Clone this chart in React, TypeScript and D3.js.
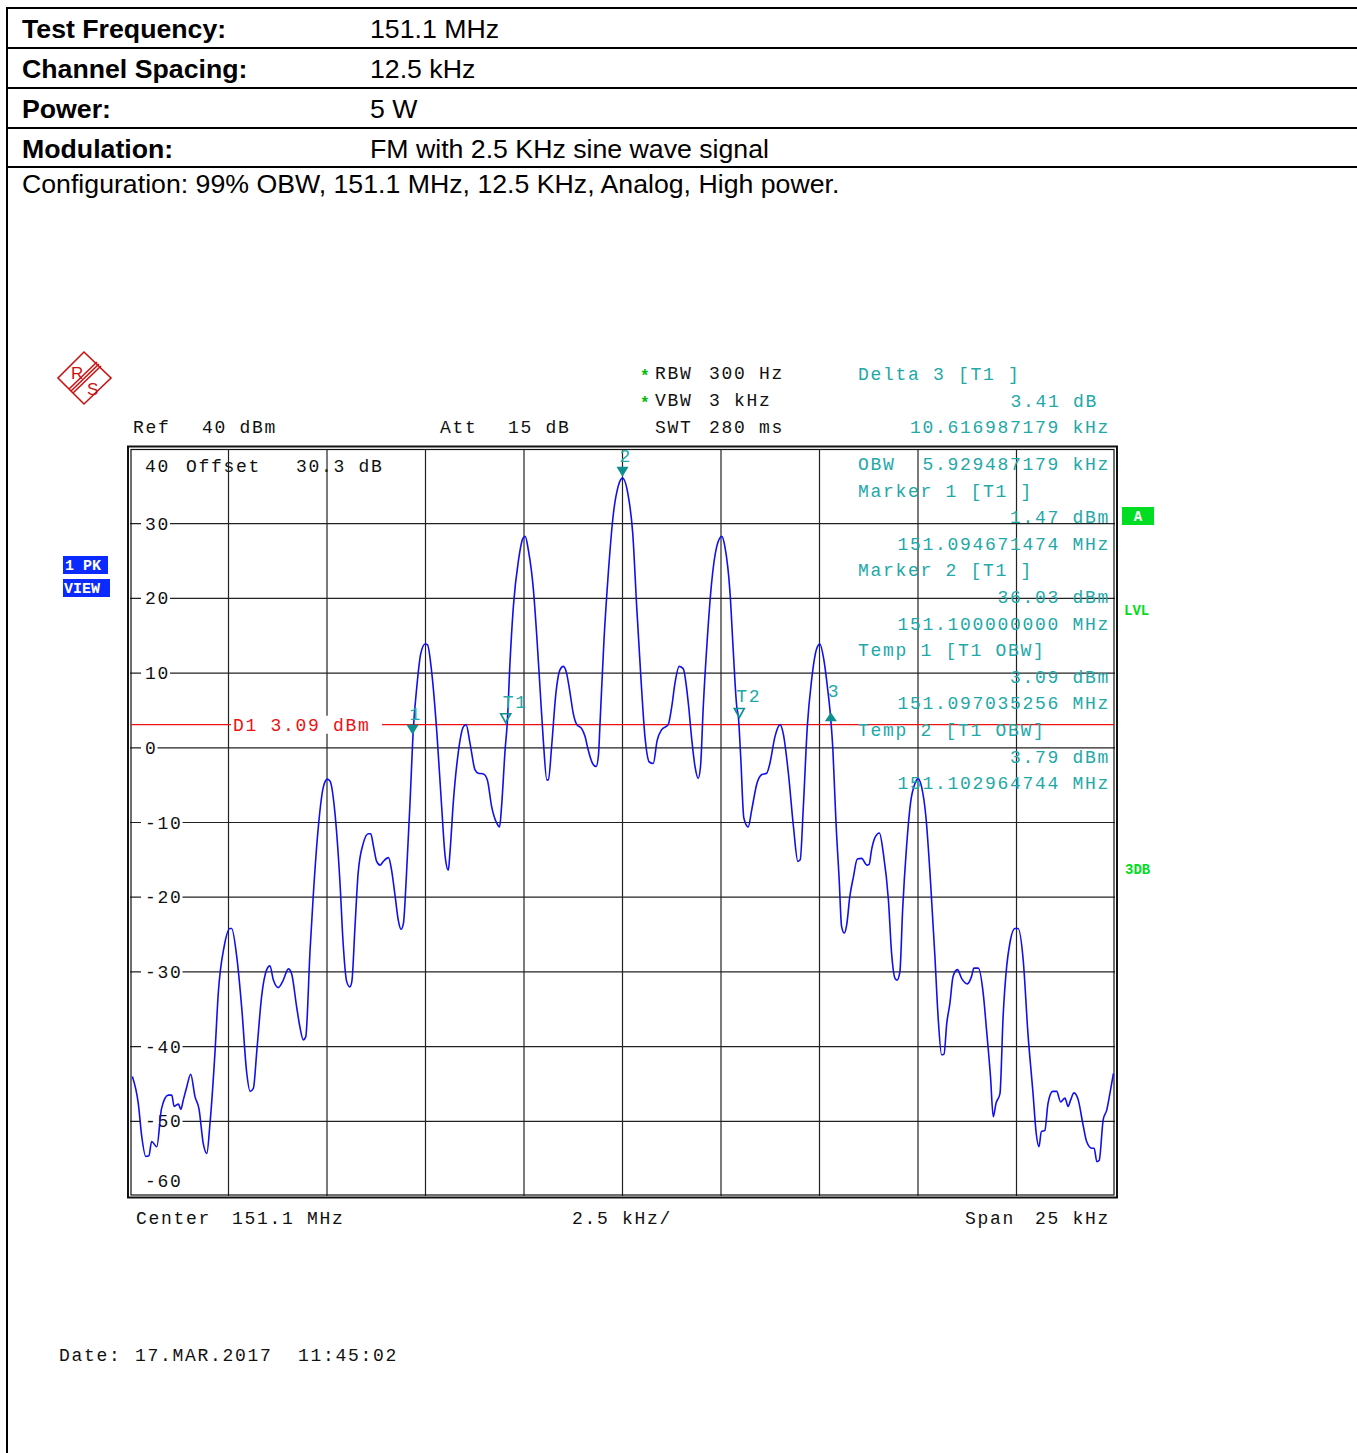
import React from "react";
import * as d3 from "d3";

// trace, kHz offset from 151.1 MHz centre / level in dBm
const traceKHz = [
  -12.44, -12.29, -12.2, -12.1, -12.02, -11.95, -11.82, -11.7, -11.53, -11.44, -11.38, -11.27, -11.21, -11.15,
  -11.06, -10.96, -10.85, -10.75, -10.64, -10.55, -10.47, -10.34, -10.26, -10.11, -9.96, -9.92, -9.79, -9.66,
  -9.54, -9.45, -9.37, -9.28, -9.16, -9.03, -8.95, -8.86, -8.74, -8.61, -8.48, -8.4, -8.27, -8.19, -8.1, -8.04,
  -7.93, -7.85, -7.72, -7.59, -7.49, -7.42, -7.29, -7.17, -7.09, -7.0, -6.92, -6.87, -6.79, -6.71, -6.58, -6.45,
  -6.39, -6.32, -6.24, -6.15, -6.07, -5.94, -5.86, -5.77, -5.69, -5.62, -5.56, -5.49, -5.39, -5.31, -5.22, -5.12,
  -5.01, -4.95, -4.84, -4.71, -4.59, -4.5, -4.42, -4.38, -4.29, -4.17, -4.04, -3.97, -3.87, -3.74, -3.66, -3.53,
  -3.43, -3.32, -3.19, -3.12, -3.07, -2.98, -2.92, -2.86, -2.77, -2.64, -2.53, -2.47, -2.39, -2.26, -2.18, -2.09,
  -2.01, -1.92, -1.88, -1.8, -1.69, -1.59, -1.5, -1.42, -1.33, -1.25, -1.16, -1.04, -0.95, -0.87, -0.76, -0.67,
  -0.61, -0.57, -0.47, -0.36, -0.23, -0.11, 0.0, 0.15, 0.26, 0.36, 0.46, 0.57, 0.68, 0.78, 0.88, 0.99, 1.16, 1.25,
  1.33, 1.44, 1.54, 1.67, 1.76, 1.84, 1.92, 1.98, 2.05, 2.15, 2.26, 2.39, 2.52, 2.6, 2.73, 2.81, 2.9, 2.94, 3.0,
  3.08, 3.19, 3.28, 3.41, 3.53, 3.66, 3.74, 3.87, 4.0, 4.08, 4.21, 4.34, 4.45, 4.51, 4.59, 4.69, 4.8, 4.93, 5.01,
  5.11, 5.2, 5.28, 5.34, 5.39, 5.42, 5.5, 5.56, 5.63, 5.69, 5.77, 5.86, 5.96, 6.07, 6.2, 6.26, 6.32, 6.41, 6.52,
  6.62, 6.75, 6.83, 6.92, 6.97, 7.04, 7.11, 7.21, 7.31, 7.42, 7.5, 7.59, 7.7, 7.82, 7.93, 8.01, 8.1, 8.16, 8.23,
  8.31, 8.39, 8.5, 8.61, 8.75, 8.86, 8.92, 9.03, 9.16, 9.24, 9.34, 9.41, 9.48, 9.58, 9.66, 9.75, 9.83, 9.96, 10.04,
  10.17, 10.29, 10.42, 10.5, 10.57, 10.63, 10.72, 10.8, 10.92, 11.02, 11.12, 11.23, 11.31, 11.37, 11.46, 11.57,
  11.69, 11.78, 11.91, 11.97, 12.04, 12.1, 12.2, 12.29, 12.37, 12.46,
];
const traceDbm = [
  -44.0, -47.6, -52.1, -54.7, -54.6, -52.7, -53.4, -48.3, -46.5, -46.5, -48.0, -47.7, -48.4, -47.2,
  -45.4, -43.7, -46.7, -48.3, -53.0, -54.3, -50.3, -40.5, -32.9, -26.6, -24.2, -24.2, -28.0, -35.1,
  -43.4, -46.0, -45.6, -40.5, -33.3, -29.7, -29.2, -31.1, -32.1, -31.1, -29.6, -30.2, -34.7, -37.3, -39.1, -38.7,
  -27.1, -19.9, -10.6, -5.2, -4.2, -4.5, -9.2, -18.1, -26.2, -31.3, -32.0, -31.3, -24.0, -16.8, -12.8, -11.5,
  -11.5, -13.2, -15.2, -15.7, -15.2, -14.7, -16.4, -19.9, -23.1, -24.3, -23.5, -17.7, -7.0, 2.4, 8.2, 12.6,
  13.9, 13.8, 10.0, 1.9, -7.9, -14.6, -16.4, -14.1, -7.0, -0.7, 2.8, 3.1, 0.6, -3.0, -3.4, -3.5,
  -4.3, -7.9, -10.1, -10.6, -7.9, -0.3, 3.7, 10.9, 18.9, 25.1, 28.0, 28.3, 26.5, 21.1, 15.3, 7.7,
  1.0, -4.3, -4.3, 0.1, 7.3, 10.4, 10.9, 10.0, 7.3, 4.6, 3.1, 2.6, 1.5, -0.3, -2.1, -2.5,
  -1.0, 3.3, 14.4, 23.4, 31.4, 35.0, 36.1, 33.6, 28.7, 18.9, 10.0, 1.5, -1.9, -2.1, 1.0, 2.4, 3.1, 5.5,
  8.6, 10.9, 10.6, 6.0, 1.0, -2.5, -4.1, -2.5, 5.5, 14.4, 22.0, 26.9, 28.3, 26.9, 20.7, 13.1, 5.5, 4.2, -1.2,
  -9.4, -10.6, -8.3, -4.8, -3.6, -3.4, -2.1, 1.5, 3.1, 1.9, -3.4, -10.6, -15.2, -15.0, -7.9, 2.8, 9.1, 13.3, 13.9,
  11.8, 8.2, 4.2, -0.3, -6.5, -10.1, -17.7, -23.9, -24.8, -23.7, -19.9, -17.3, -14.9, -14.8, -15.7, -15.6, -13.7, -12.0, -11.4,
  -14.1, -20.4, -27.5, -30.9, -31.1, -30.0, -21.7, -13.2, -7.4, -4.8, -4.1, -5.2, -9.2, -18.1, -28.0, -36.0, -41.1, -41.0, -36.9,
  -34.2, -30.6, -29.7, -30.9, -31.6, -30.6, -29.5, -29.5, -33.1, -37.8, -44.0, -49.4, -47.6, -46.3, -36.0, -29.3, -26.2, -24.2, -24.2,
  -28.4, -38.2, -46.3, -51.6, -53.4, -51.4, -51.2, -47.6, -46.0, -46.0, -47.4, -46.9, -48.0, -47.2, -46.2, -47.2,
  -50.5, -52.7, -53.6, -53.6, -55.4, -55.2, -49.8, -48.5, -46.3, -43.6,
];

const yTickValues = [30, 20, 10, 0, -10, -20, -30, -40, -50];
const xGridValues = [-10, -7.5, -5, -2.5, 0, 2.5, 5, 7.5, 10];

const markerKHz = [-5.3286, 0, 5.2884];
const markerDbm = [1.47, 36.03, 4.88];
const markerNames = ["1", "2", "3"];
const tempKHz = [-2.9647, 2.9647];
const tempDbm = [3.09, 3.79];
const tempNames = ["T1", "T2"];
const displayLineDbm = 3.09;

const tableLabels = ["Test Frequency:", "Channel Spacing:", "Power:", "Modulation:"];
const tableValues = ["151.1 MHz", "12.5 kHz", "5 W", "FM with 2.5 KHz sine wave signal"];

const deltaLines = ["3.41 dB", "10.616987179 kHz"];
const readoutLeft = ["OBW", "Marker 1 [T1 ]", "", "", "Marker 2 [T1 ]", "", "", "Temp 1 [T1 OBW]", "", "", "Temp 2 [T1 OBW]", "", ""];
const readoutRight = [
  "5.929487179 kHz", "", "1.47 dBm", "151.094671474 MHz", "", "36.03 dBm", "151.100000000 MHz",
  "", "3.09 dBm", "151.097035256 MHz", "", "3.79 dBm", "151.102964744 MHz",
];

const sans = "'Liberation Sans', Arial, sans-serif";
const mono = "'Liberation Mono', 'Courier New', monospace";
const TEAL = "#22a8a8";
const MARK = "#0e9090";
const GREEN = "#00dd22";
const PITCH = 12.5;

const monoStyle: React.CSSProperties = { fontFamily: mono, fontSize: 18, letterSpacing: 1.7 };

const App: React.FC = () => {
  const W = 1357;
  const H = 1453;
  const left = 130, right = 1115, top = 449, bottom = 1196;

  const x = d3.scaleLinear().domain([-12.5, 12.5]).range([left, right]);
  const y = d3.scaleLinear().domain([-60, 40]).range([bottom, top]);

  const pts: [number, number][] = traceKHz.map((f, i) => [f, traceDbm[i]]);
  const line = d3
    .line<[number, number]>()
    .x((d) => x(d[0]))
    .y((d) => y(d[1]))
    .curve(d3.curveMonotoneX);

  const rowY = (i: number) => 470 + i * 26.6;

  return (
    <svg
      width={W}
      height={H}
      style={{ position: "absolute", left: 0, top: 0, display: "block", background: "#fff" }}
    >
      {/* page frame + header table */}
      <line x1={7} x2={7} y1={7} y2={H} stroke="#000" strokeWidth={2} />
      {[8, 48, 88, 128, 167].map((ly) => (
        <line key={ly} x1={6} x2={W} y1={ly} y2={ly} stroke="#000" strokeWidth={2} />
      ))}
      {tableLabels.map((t, i) => (
        <text key={t} x={22} y={38 + i * 40} fontFamily={sans} fontSize={26.7} fontWeight="bold">
          {t}
        </text>
      ))}
      {tableValues.map((t, i) => (
        <text key={t} x={370} y={38 + i * 40} fontFamily={sans} fontSize={26.7}>
          {t}
        </text>
      ))}
      <text x={22} y={193} fontFamily={sans} fontSize={26.7}>
        Configuration: 99% OBW, 151.1 MHz, 12.5 KHz, Analog, High power.
      </text>

      {/* R&S logo */}
      <g stroke="#cc1111" fill="none" strokeWidth={1.6}>
        <polygon points="84,352 111,378 84,404 58,378" />
        <line x1={99} x2={71} y1={364} y2={391} />
        <line x1={101} x2={73} y1={366} y2={393} />
        <line x1={97} x2={69} y1={362} y2={389} />
      </g>
      <text x={71} y={379} fontFamily={sans} fontSize={17} fill="#cc1111">R</text>
      <text x={87} y={395} fontFamily={sans} fontSize={17} fill="#cc1111">S</text>

      {/* settings header */}
      <g style={monoStyle} fill="#111">
        <text x={133} y={433}>Ref</text>
        <text x={202} y={433}>40 dBm</text>
        <text x={440} y={433}>Att</text>
        <text x={508} y={433}>15 dB</text>
        <text x={655} y={379}>RBW</text>
        <text x={709} y={379}>300 Hz</text>
        <text x={655} y={406}>VBW</text>
        <text x={709} y={406}>3 kHz</text>
        <text x={655} y={433}>SWT</text>
        <text x={709} y={433}>280 ms</text>
        <text x={145} y={472}>40</text>
        <text x={186} y={472}>Offset</text>
        <text x={296} y={472}>30.3 dB</text>
        <text x={136} y={1224}>Center</text>
        <text x={232} y={1224}>151.1 MHz</text>
        <text x={572} y={1224}>2.5 kHz/</text>
        <text x={965} y={1224}>Span</text>
        <text x={1110} y={1224} textAnchor="end">25 kHz</text>
        <text x={59} y={1361}>Date:</text>
        <text x={135} y={1361}>17.MAR.2017</text>
        <text x={298} y={1361}>11:45:02</text>
      </g>
      <text x={640} y={381} fill="#00bb00" fontFamily={mono} fontSize={16} fontWeight="bold">*</text>
      <text x={640} y={408} fill="#00bb00" fontFamily={mono} fontSize={16} fontWeight="bold">*</text>

      {/* grid */}
      <g stroke="#222" strokeWidth={1.2}>
        {xGridValues.map((v) => (
          <line key={"x" + v} x1={x(v)} x2={x(v)} y1={top} y2={bottom} />
        ))}
        {yTickValues.map((v) => (
          <line key={"y" + v} x1={left} x2={right} y1={y(v)} y2={y(v)} />
        ))}
      </g>
      {yTickValues.map((v) => {
        const s = v < 0 ? "-" + Math.abs(v) : String(v);
        return (
          <g key={"t" + v}>
            <rect x={141} y={y(v) - 8} width={s.length * PITCH + 4} height={16} fill="#fff" />
            <text x={145} y={y(v) + 6} style={monoStyle} fill="#111">
              {s}
            </text>
          </g>
        );
      })}
      <text x={145} y={1187} style={monoStyle} fill="#111">-60</text>

      {/* frame */}
      <rect x={128} y={446.5} width={989} height={751} fill="none" stroke="#111" strokeWidth={2} />
      <rect x={131} y={449.5} width={983} height={745.5} fill="none" stroke="#111" strokeWidth={1.2} />

      {/* display line D1 */}
      <line x1={left + 1} x2={right - 1} y1={y(displayLineDbm)} y2={y(displayLineDbm)} stroke="#ee1111" strokeWidth={1.2} />
      <rect x={231} y={y(displayLineDbm) - 9} width={151} height={18} fill="#fff" />
      <text x={233} y={y(displayLineDbm) + 6} style={monoStyle} fill="#ee1111">
        D1 3.09 dBm
      </text>

      {/* trace */}
      <path d={line(pts) || ""} fill="none" stroke="#1010ee" strokeWidth={1.6} />

      {/* markers */}
      {markerKHz.map((f, i) => {
        const mx = x(f);
        const up = i === 2;
        const tip = up ? y(markerDbm[i]) + 1 : y(markerDbm[i]) - 2;
        const d = up
          ? `M${mx - 6},${tip + 9}L${mx + 6},${tip + 9}L${mx},${tip}Z`
          : `M${mx - 6},${tip - 10}L${mx + 6},${tip - 10}L${mx},${tip}Z`;
        return (
          <g key={"m" + i}>
            <path d={d} fill={MARK} />
            <text x={mx - 3} y={tip - 15} style={monoStyle} fill={TEAL}>
              {markerNames[i]}
            </text>
          </g>
        );
      })}
      {tempKHz.map((f, i) => {
        const mx = x(f);
        const tip = y(tempDbm[i]) - 2;
        return (
          <g key={"tm" + i}>
            <path
              d={`M${mx - 5},${tip - 9}L${mx + 5},${tip - 9}L${mx},${tip}Z`}
              fill="none"
              stroke={MARK}
              strokeWidth={1.6}
            />
            <text x={mx - 3} y={tip - 15} style={monoStyle} fill={TEAL}>
              {tempNames[i]}
            </text>
          </g>
        );
      })}

      {/* marker readouts */}
      <g style={monoStyle} fill={TEAL}>
        <text x={858} y={380}>Delta 3 [T1 ]</text>
        <text x={1098} y={407} textAnchor="end">{deltaLines[0]}</text>
        <text x={1110} y={433} textAnchor="end">{deltaLines[1]}</text>
        {readoutLeft.map((t, i) =>
          t ? (
            <text key={"l" + i} x={858} y={rowY(i)}>
              {t}
            </text>
          ) : null
        )}
        {readoutRight.map((t, i) =>
          t ? (
            <text key={"r" + i} x={1110} y={rowY(i)} textAnchor="end">
              {t}
            </text>
          ) : null
        )}
      </g>

      {/* side badges */}
      <rect x={63} y={556} width={45} height={18} fill="#0a2aff" />
      <text x={65} y={570} fontFamily={mono} fontSize={15} fontWeight="bold" fill="#fff">1 PK</text>
      <rect x={63} y={579} width={47} height={18} fill="#0a2aff" />
      <text x={64} y={593} fontFamily={mono} fontSize={15} fontWeight="bold" fill="#fff">VIEW</text>
      <rect x={1122} y={507} width={32} height={18} fill={GREEN} />
      <text x={1138} y={521} fontFamily={mono} fontSize={14} fontWeight="bold" fill="#fff" textAnchor="middle">A</text>
      <text x={1124} y={615} fontFamily={mono} fontSize={14} fontWeight="bold" fill={GREEN}>LVL</text>
      <text x={1125} y={874} fontFamily={mono} fontSize={14} fontWeight="bold" fill={GREEN}>3DB</text>
    </svg>
  );
};

export default App;
